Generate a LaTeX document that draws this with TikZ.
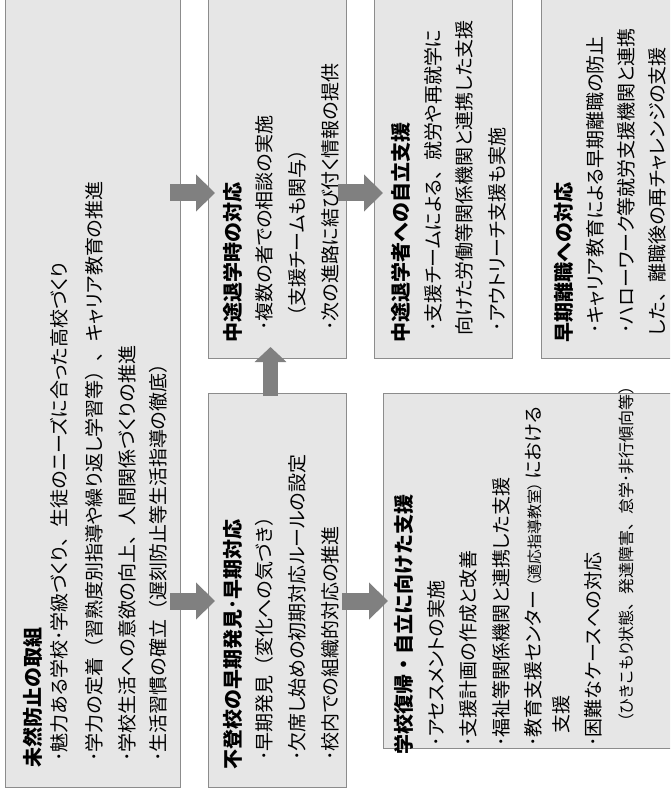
\documentclass[tikz,border=0pt]{standalone}
\usepackage{fontspec}
\setmainfont{Noto Sans CJK JP}[RawFeature=+palt]
\newfontfamily\jpfull{Noto Sans CJK JP}
\newcommand\F[1]{{\jpfull #1}}
\usetikzlibrary{arrows.meta}
\definecolor{boxfill}{RGB}{230,230,230}
\definecolor{boxline}{RGB}{140,140,140}
\definecolor{arrowgray}{RGB}{128,128,128}
\begin{document}
\begin{tikzpicture}[x=1pt,y=-1pt,
  box/.style={draw=boxline, fill=boxfill, line width=1pt, rectangle, inner sep=0pt, outer sep=0pt, anchor=north west},
  ttl/.style={rotate=90, anchor=base west, inner sep=0pt, font=\fontsize{20}{24}\selectfont\jpfull\bfseries},
  txt/.style={rotate=90, anchor=base west, inner sep=0pt, font=\fontsize{19}{22}\selectfont},
  harrow/.style={draw=arrowgray, line width=17pt, -{Triangle[length=19pt,width=36pt]}},
  varrow/.style={draw=arrowgray, line width=15.5pt, -{Triangle[length=15pt,width=31pt]}}
]
\path[use as bounding box] (0,0) rectangle (670,791);
\clip (0,0) rectangle (670,791);
% boxes
\node[box, minimum width=175pt, minimum height=800pt] (b1) at (5,-13) {};
\node[box, minimum width=138pt, minimum height=371pt] (b2) at (208,-13) {};
\node[box, minimum width=138pt, minimum height=394pt] (b3) at (208,393) {};
\node[box, minimum width=138pt, minimum height=371pt] (b4) at (374,-13) {};
\node[box, minimum width=300pt, minimum height=355pt] (b5) at (383,393) {};
\node[box, minimum width=142pt, minimum height=371pt] (b6) at (541,-13) {};
% box 1
\node[ttl] (t1) at (40,768) {未然防止の取組};
\node[txt] (t1a) at (66.2,762) {･魅力ある学校･学級づくり\F{、}生徒のニーズに合った高校づくり};
\node[txt] (t1b) at (101.2,762) {･学力の定着\F{（}習熟度別指導や繰り返し学習等\F{）}\F{、}キャリア教育の推進};
\node[txt] (t1c) at (134.7,762) {･学校生活への意欲の向上\F{、}人間関係づくりの推進};
\node[txt] (t1d) at (165.7,762) {･生活習慣の確立\F{（}遅刻防止等生活指導の徹底\F{）}};
% box 2
\node[ttl] (t2) at (240,343) {中途退学時の対応};
\node[txt] (t2a) at (271.2,331) {･複数の者での相談の実施};
\node[txt] (t2b) at (304.2,326) {\F{（}支援チームも関与\F{）}};
\node[txt] (t2c) at (337.2,331) {･次の進路に結び付く情報の提供};
% box 3
\node[ttl] (t3) at (240,770) {不登校の早期発見･早期対応};
\node[txt] (t3a) at (271.2,761) {･早期発見\F{（}変化への気づき\F{）}};
\node[txt] (t3b) at (304.2,761) {･欠席し始めの初期対応ルールの設定};
\node[txt] (t3c) at (337.2,761) {･校内での組織的対応の推進};
% box 4
\node[ttl] (t4) at (408.6,343) {中途退学者への自立支援};
\node[txt] (t4a) at (440.7,332) {･支援チームによる\F{、}就労や再就学に};
\node[txt] (t4b) at (471.2,336) {向けた労働等関係機関と連携した支援};
\node[txt] (t4c) at (504.7,332) {･アウトリーチ支援も実施};
% box 5
\node[ttl] (t5) at (411.6,755) {学校復帰・自立に向けた支援};
\node[txt] (t5a) at (443.7,747) {･アセスメントの実施};
\node[txt] (t5b) at (475.7,747) {･支援計画の作成と改善};
\node[txt] (t5c) at (508.7,747) {･福祉等関係機関と連携した支援};
\node[txt] (t5d) at (540.7,747) {･教育支援センター\hspace{4pt}{\fontsize{15}{18}\selectfont（適応指導教室）}\hspace{3pt}における};
\node[txt] (t5e) at (568.7,734) {支援};
\node[txt] (t5f) at (600.7,747) {･困難なケースへの対応};
\node[txt, font=\fontsize{16}{19}\selectfont] (t5g) at (632,730) {\F{（}ひきこもり状態\F{、}発達障害\F{、}怠学･非行傾向等\F{）}};
% box 6
\node[ttl] (t6) at (571.6,343) {早期離職への対応};
\node[txt] (t6a) at (602.2,334) {･キャリア教育による早期離職の防止};
\node[txt] (t6b) at (633.7,334) {･ハローワーク等就労支援機関と連携};
\node[txt] (t6c) at (664.7,336) {した\F{、}離職後の再チャレンジの支援};
% arrows
\draw[harrow, shorten <=-10pt, shorten >=-7pt] (b1.east |- 0,193) -- (b2.west |- 0,193);
\draw[harrow, shorten <=-10pt, shorten >=-7pt] (b1.east |- 0,601) -- (b3.west |- 0,601);
\draw[harrow, shorten <=-8pt, shorten >=-9pt] (b2.east |- 0,193) -- (b4.west |- 0,193);
\draw[harrow, shorten <=-4pt, shorten >=-5pt] (b3.east |- 0,601) -- (b5.west |- 0,601);
\draw[varrow, shorten <=-3pt, shorten >=-11pt] (b3.north -| 270.5,0) -- (b2.south -| 270.5,0);
\end{tikzpicture}
\end{document}
